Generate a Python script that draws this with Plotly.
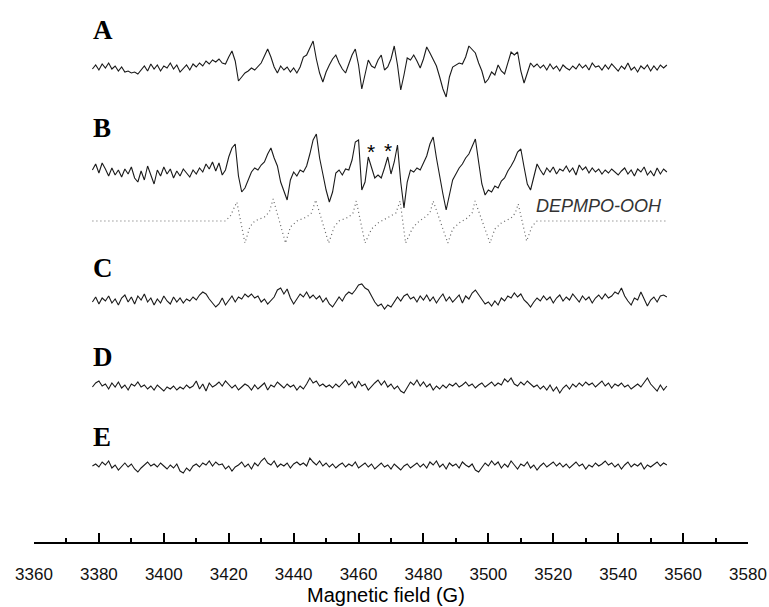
import plotly.graph_objects as go

# ---------------- data (signal amplitudes) ----------------
FIELD = list(range(3378, 3556))  # magnetic field sweep (G), 1 G steps

SPEC_A = [
    0, 4, -1, 5, 1, 6, 0, 3, -2, 2,
    -3, -2, -4, -3, -5, -1, 3, -2, 5, 0,
    4, -2, 3, 1, 6, 0, 4, -3, 1, 4,
    -1, 5, 2, 6, 3, 8, 5, 9, 7, 10,
    6, 5, 12, 18, 8, -12, -8, -4, -2, 1,
    -1, 3, 6, 13, 20, 12, 2, -4, 3, -1,
    2, -3, 1, -4, 2, 12, 14, 21, 28, 10,
    -4, -13, -3, 4, 10, 14, 6, 0, -4, 5,
    14, 20, 4, -20, -6, 9, 3, 1, 9, 14,
    -1, 2, 10, 23, 4, -21, -6, 11, 9, 14,
    8, 1, 10, 22, 16, 9, 3, -8, -20, -28,
    -8, 2, 4, 6, 5, 12, 23, 19, 16, 6,
    -2, -14, -10, -3, -6, 4, -2, -5, 6, 17,
    14, 17, -2, -14, -4, 6, 2, 5, 1, 4,
    -1, 5, 0, 3, -2, 4, 1, -1, 3, 0,
    5, 1, 4, -1, 6, 2, 3, -1, 4, 0,
    5, 1, -2, 3, 0, 6, -1, 2, -3, 3,
    0, 4, -2, 3, -1, 4, 1, 4,
]

SPEC_B = [
    2, 8, -1, 9, 3, -4, 4, -3, 2, -5,
    3, -2, 5, -6, -10, 1, -8, 6, -3, -12,
    2, -4, 5, -2, 3, -6, 1, -4, 3, -1,
    -5, 2, -2, 4, 0, 8, 3, 10, 1, 9,
    -3, 2, 15, 24, 28, -4, -20, -16, -8, 0,
    4, 2, 7, 10, 18, 24, 14, 6, -10, -20,
    -28, -8, 0, -4, 2, 0, 6, 18, 32, 38,
    14, -2, -18, -30, -20, -1, 2, -3, 3, 2,
    12, 30, 32, -18, -10, 15, 4, -6, -3, -6,
    4, 15, -2, 10, 27, -10, -36, -10, 2, 0,
    4, 2, 9, 16, 28, 35, 14, -6, -22, -38,
    -24, -8, -2, 4, 8, 14, 18, 26, 33, 10,
    -12, -23, -18, -20, -14, -16, -9, -6, 1, 6,
    12, 20, 23, 5, -12, -18, -4, 8, 2, -3,
    4, 0, 5, -2, 3, 1, 6, 0, 4, -3,
    7, 2, 5, -1, 4, 0, 3, -2, 2, -1,
    3, 0, -3, 1, 4, -2, 2, -4, 3, 0,
    5, -3, 1, -4, 4, -2, 3, 0,
]

SPEC_C = [
    -2, 3, -4, 2, -1, 4, -3, 1, -5, 2,
    5, -2, 3, -4, 4, 0, 6, -2, 2, -5,
    1, -3, 4, -1, -4, 3, -2, 2, -3, 1,
    -1, 3, 0, 5, 8, 6, 1, -3, -7, -4,
    2, -5, 0, 4, -2, 3, 1, 6, 3, 6,
    2, 4, -2, 1, -4, 0, 3, 10, 12, 6,
    11, 2, -4, 1, 6, 3, 8, 2, 5, 1,
    4, -2, 2, -4, -7, -2, 3, -1, 5, 8,
    6, 10, 15, 16, 12, 10, 4, -2, -6, -4,
    -9, -5, -7, -2, 3, -1, 4, 6, 1, 3,
    -2, 4, 0, 5, -1, 3, -3, 2, 6, -1,
    3, -2, 2, 5, -3, 4, 1, 7, 10, 5,
    1, -4, -2, -6, -1, -5, 2, -1, 4, 2,
    7, 3, 6, 0, -3, -7, -2, 2, -1, 4,
    0, 3, -3, 2, 5, -1, 3, 0, 6, 2,
    -2, 4, 0, 3, -3, 2, 5, 1, 6, 2,
    4, 8, 6, 12, 4, -1, -5, 2, 0, 8,
    1, -6, 0, 3, -2, 4, 5, 3,
]

SPEC_D = [
    0, 4, 6, 1, 3, -2, 4, 0, 5, -1,
    2, -3, 3, 1, 5, 0, 2, -2, 1, -3,
    2, -1, -4, 0, -2, 1, -3, 0, -2, 2,
    -1, 1, 6, -2, 3, -4, 4, 0, 2, 5,
    1, 6, 3, -1, 2, -3, 0, 3, 1, -3,
    2, -2, 1, 4, -3, 2, 0, 5, 2, -1,
    3, 0, 2, -3, 1, -2, 3, 9, 4, 6,
    1, 3, 0, 2, -1, 3, 0, 4, 7, 2,
    5, -1, 6, 1, 3, -3, 1, 4, 7, 2,
    6, 0, 3, -2, 1, -4, -6, 0, 5, 2,
    7, 1, 5, 0, 3, -3, 1, -2, 2, -1,
    3, 1, 4, 0, 2, 5, 1, 3, -1, 2,
    4, 0, 3, 5, 1, 4, 2, 8, 5, 9,
    3, 1, 5, 2, 6, 3, 0, 2, -2, 1,
    -3, 2, -4, 0, -6, -1, 2, -2, 3, 0,
    4, 1, 5, 2, 4, 0, 3, 6, 1, 4,
    -1, 3, 1, 4, 0, 2, -2, 1, 3, 0,
    5, 9, 3, 0, -4, 2, -3, 1,
]

SPEC_E = [
    1, 3, 0, 5, 2, 6, -1, 2, -3, 1,
    4, 0, 3, -2, -5, -1, 2, 5, 1, 3,
    0, 4, 1, -2, 2, -1, 3, -4, -6, -1,
    -4, 1, 3, 0, 4, 2, 6, 1, 5, 2,
    3, -2, 1, -4, 0, 2, 5, 0, 3, -2,
    4, 1, 6, 9, 4, 2, 6, 0, 3, 1,
    4, -1, 3, 5, 2, 4, 1, 9, 5, 2,
    6, 1, 4, 0, 3, -1, 2, 4, 0, 3,
    1, 5, -1, 2, 4, 0, 3, -2, 1, 4,
    0, 2, -2, 3, 0, -3, 1, 3, -1, 2,
    4, 0, 3, -1, 5, 2, 6, 0, 3, -2,
    4, 1, 3, -1, 5, 2, 0, 3, -3, -5,
    0, 4, 1, 6, 2, 5, -1, 3, 0, 6,
    2, -2, 3, 1, 5, -1, 2, -3, 1, 4,
    0, 3, 5, 1, 4, 0, 3, -1, 2, 5,
    1, 3, -2, 2, 0, 4, 1, 3, 6, 2,
    4, 0, 3, -2, 2, 5, 0, 3, 1, 4,
    -2, 2, 0, 3, 5, 1, 4, 2,
]

# simulated DEPMPO-OOH spectrum (dotted)
SIM_FIELD = [
    3378, 3419, 3420.5, 3422.5, 3425, 3426.5, 3428, 3431, 3432.5, 3433.7,
    3437.5, 3439, 3441, 3444, 3445.5, 3446.8, 3450.8, 3452.5, 3454, 3457,
    3458.3, 3459.3, 3462, 3464, 3466, 3469, 3471.5, 3472.8, 3474.5, 3476.5,
    3478, 3480.5, 3482, 3483, 3487.5, 3489, 3491, 3493.5, 3495, 3495.9,
    3500.5, 3502, 3504, 3507, 3508.3, 3509.2, 3511.8, 3513.5, 3515, 3555,
]
SIM_OOH = [
    0, 0, 5, 19, -22, -6, 0, 4, 9, 22,
    -22, -6, 0, 4, 8, 21, -22, -6, 0, 4,
    8, 20, -22, -8, -2, 3, 8, 20, -22, -8,
    -2, 4, 8, 20, -22, -8, -2, 3, 8, 20,
    -22, -8, -2, 3, 8, 17, -20, -5, 0, 0,
]

TICK_MAJOR = [3360, 3380, 3400, 3420, 3440, 3460, 3480, 3500, 3520, 3540, 3560, 3580]
PANEL_LABELS = ["A", "B", "C", "D", "E"]
X_TITLE = "Magnetic field (G)"
SIM_NAME = "DEPMPO-OOH"

# ---------------- layout constants ----------------
# vertical values are expressed as (542 - page pixel row)
W, H = 769, 607
AXIS_ROW = 542                      # page row of the x axis line
PLOT_H = AXIS_ROW                   # plot area height in px (top margin 0)
OFFS = {"A": 473, "B": 370, "C": 242, "D": 155, "E": 75}
SIM_OFF = 321
LABEL_Y = {"A": 512, "B": 414, "C": 274, "D": 185, "E": 105}

fig = go.Figure()
series = {"A": SPEC_A, "B": SPEC_B, "C": SPEC_C, "D": SPEC_D, "E": SPEC_E}
for name, vals in series.items():
    fig.add_trace(go.Scatter(
        x=FIELD, y=[v + OFFS[name] for v in vals], mode="lines",
        line=dict(color="#1a1a1a", width=1.1), showlegend=False, hoverinfo="skip"))

fig.add_trace(go.Scatter(
    x=SIM_FIELD, y=[v + SIM_OFF for v in SIM_OOH], mode="lines",
    line=dict(color="#666666", width=1.2, dash="1px,3px"), showlegend=False, hoverinfo="skip"))

annotations = []
for lab in PANEL_LABELS:
    annotations.append(dict(
        x=3377.6, y=LABEL_Y[lab], xref="x", yref="y", text="<b>%s</b>" % lab,
        showarrow=False, xanchor="left", yanchor="middle",
        font=dict(family="Liberation Serif", size=27, color="black")))
for ax_, ay_ in [(3463.9, 391), (3469.1, 392)]:
    annotations.append(dict(
        x=ax_, y=ay_, xref="x", yref="y", text="*", showarrow=False,
        xanchor="center", yanchor="middle",
        font=dict(family="Liberation Sans", size=21, color="black")))
annotations.append(dict(
    x=3554.2, y=336, xref="x", yref="y", text="<i>%s</i>" % SIM_NAME,
    showarrow=False, xanchor="right", yanchor="middle",
    font=dict(family="Liberation Sans", size=18, color="#333333")))
# axis title (paper coordinates so it may sit below the plot area)
annotations.append(dict(
    x=(386 - 34) / (748 - 34), y=-(595 - AXIS_ROW) / PLOT_H, xref="paper", yref="paper",
    text=X_TITLE, showarrow=False, xanchor="center", yanchor="middle",
    font=dict(family="Liberation Sans", size=20, color="black")))

fig.update_layout(
    width=W, height=H,
    margin=dict(l=34, r=21, t=0, b=H - PLOT_H, pad=0),
    paper_bgcolor="white", plot_bgcolor="white",
    annotations=annotations,
    xaxis=dict(
        range=[3360, 3580], showgrid=False, zeroline=False,
        showline=True, linecolor="black", linewidth=2,
        ticks="inside", ticklen=9, tickwidth=2, tickcolor="black",
        tickvals=TICK_MAJOR, ticktext=[str(t) for t in TICK_MAJOR],
        tickfont=dict(family="Liberation Sans", size=17, color="#111111"),
        ticklabelstandoff=16,
        minor=dict(ticks="inside", ticklen=4, tickwidth=2, tickcolor="black", dtick=10, showgrid=False),
    ),
    yaxis=dict(range=[0, PLOT_H], visible=False, showgrid=False, zeroline=False),
)

fig.write_html(
    "out.html",
    config={"displayModeBar": False},
    post_script="document.body.style.margin='0px';document.body.style.overflow='hidden';",
)
